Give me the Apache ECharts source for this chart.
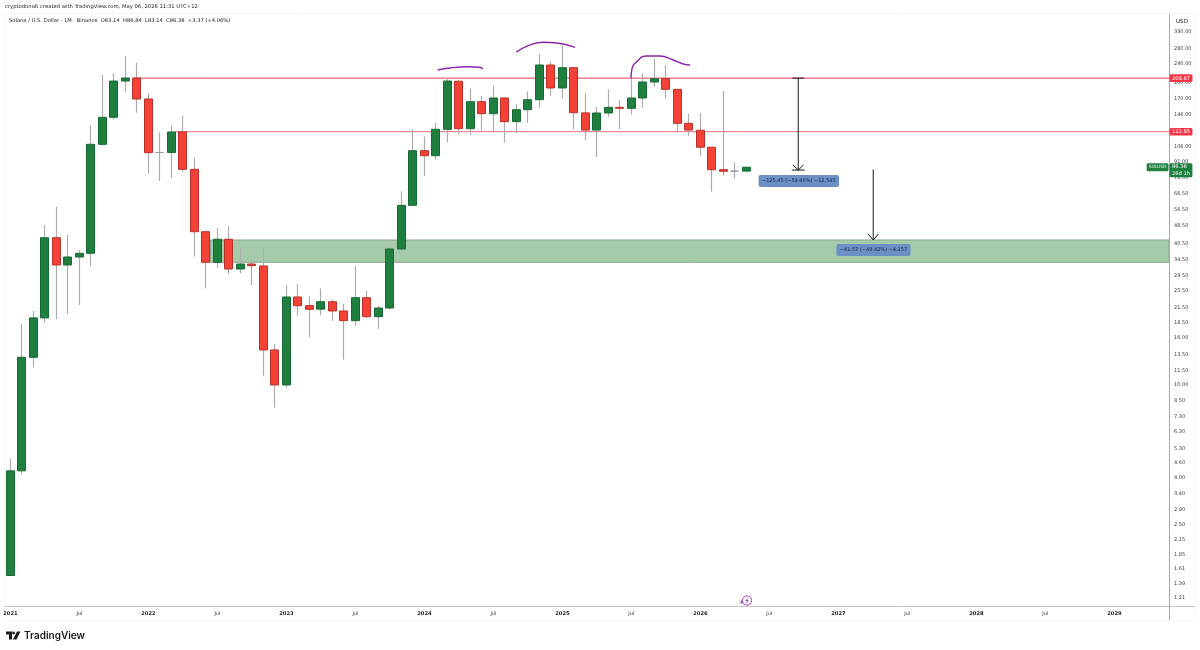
<!DOCTYPE html>
<html><head><meta charset="utf-8">
<style>html,body{margin:0;padding:0;background:#fff}#c{width:1200px;height:650px}</style>
<script src="https://cdn.jsdelivr.net/npm/echarts@6/dist/echarts.min.js"></script>
</head><body><div id="c"></div>
<script>
const opens=[1.51,4.26,13.13,19.4,42.95,32.78,35.48,36.8,108.4,141.7,203,209.2,169.9,100,100,122.5,84.6,45.6,33.67,42.3,31.5,33.1,32.46,14.12,9.98,23.87,21.9,21.15,22.78,20.78,18.88,23.7,19.64,21.4,38.4,59.2,101.8,96.85,125.8,202.5,126.6,165.4,146.9,171.6,135.7,152.8,168.7,237.9,189.5,231.7,148,124.9,147.9,156.4,154.9,171.6,201.1,208,187,133.5,124.6,105.3,84.3,83.14,83.14];
const closes=[4.26,13.13,19.4,42.95,32.78,35.48,36.8,108.4,141.7,203,209.2,169.9,99.8,100,122.5,84.6,45.6,33.67,42.3,31.5,33.1,32.56,14.12,9.98,23.87,21.9,21.13,22.78,20.78,18.88,23.7,19.64,21.4,38.4,59.2,101.8,96.85,125.8,203,126.6,165.4,146.9,171.6,135.7,152.8,168.7,237.9,189.5,231.7,148.3,124.9,147.9,156.4,154.9,171.6,201.1,207.7,187,133.5,124.9,105.3,84.3,83,83.14,86.38];
const lows=[1.5,4.12,11.9,18.5,19.15,20.23,22.05,32.46,106.9,138.9,182.1,148.3,81.3,75.4,77.9,82.4,35.6,26,31.9,30.07,30.2,26.8,10.94,7.97,9.72,19.84,16,19.9,18.82,12.82,17.96,19.4,17.39,21.13,37.8,58.9,79.2,93.4,110.6,119.3,119.3,122.9,122.1,110.2,121.3,133.9,155.4,175.5,169.9,125.8,112.8,95.6,142.1,126.2,145.4,155.9,191.9,170.4,122.1,117.4,96.85,67.8,79.4,77.4,83.14];
const highs=[4.81,18.27,20.78,48.7,58.4,44.25,38,131.3,216.1,219.2,260.1,243.4,179.8,122.1,130,144,95.3,45.8,47.3,48.1,38.8,34.7,38.8,14.94,26.9,27.16,23.95,26,23.24,22.27,32.36,25.41,21.77,38.6,68.05,126.2,117.4,134.3,209.8,204.5,188.9,175,194.6,172,161.2,183.3,264.6,245.9,288.1,232,179.8,156.9,187,168.2,208.6,217.6,253.3,237.2,187.5,146.9,147.9,105.5,183.9,90.7,86.84];
const priceTicks=[330,280,240,200,170,146,124,106,91,78,66.5,56.5,48.5,40.5,34.5,29.5,25.5,21.5,18.5,16,13.5,11.5,10,8.5,7.3,6.3,5.3,4.6,4,3.4,2.9,2.5,2.15,1.85,1.61,1.39,1.21];
const timeTicks=[0,6,12,18,24,30,36,42,48,54,60,66,72,78,84,90,96];
const timeLabels=['2021','Jul','2022','Jul','2023','Jul','2024','Jul','2025','Jul','2026','Jul','2027','Jul','2028','Jul','2029'];
const resistanceHigh=208.87, resistanceLow=122.85;
const resistanceHighLine=[[10.7,resistanceHigh],[100.75,resistanceHigh]];
const resistanceLowLine=[[14.3,resistanceLow],[100.75,resistanceLow]];
const zoneTop=42, zoneBottom=33.67, zoneStart=17.4;
const curve1=[[37.16,226.4],[38.23,231],[39.68,234],[40.83,232.6],[41.07,228.7]];
const curve2=[[43.99,269.9],[45.03,288.1],[46.34,298],[47.5,295.9],[49.1,283.6]];
const curve3=[[53.97,208.6],[54.03,226.4],[54.46,245.9],[55.33,260.1],[56.49,260.1],[57.64,250],[58.51,240.3],[59.1,237.9]];
const arrow1=[[68.51,208.87],[68.51,84]];
const arrow1TopCap=[[68,208.87],[69.02,208.87]];
const arrow1BottomCap=[[67.95,84],[69.07,84]];
const arrow1Head=[[68.05,88.4],[68.51,84],[68.97,88.4]];
const arrow2=[[75.03,84.5],[75.03,42]];
const arrow2Head=[[74.58,44.6],[75.03,42],[75.48,44.6]];
const measure1=[68.56,75.4,'−125.45 (−59.86%) −12,545'];
const measure2=[75.05,38.05,'−41.57 (−49.42%) −4,157'];
const lastPrice=86.38, countdown='26d 1h', symbolName='SOLUSD';
const xMin=-0.47, xMax=100.75, yMin=1.116, yMax=394.5;

const UP='#1f7f3f',UPB='#186a33',DN='#f44336',DNB='#b8302a',WICK='#adadad',FONT='"DejaVu Sans",sans-serif',AX='#3a3a3a';
const idx=opens.map((_,i)=>i);
const wickData=idx.map(i=>[i,opens[i],closes[i],lows[i],highs[i]]);
const bodyData=idx.map(i=>[i,opens[i],closes[i],Math.min(opens[i],closes[i]),Math.max(opens[i],closes[i])]);
const line=(data,color,width,smooth,z)=>({type:'line',data,showSymbol:false,symbol:'none',smooth:smooth||false,silent:true,z:z||6,clip:false,lineStyle:{color,width},itemStyle:{color}});
const tag=(x,y,text,pos,bg,fs,off,pad)=>({type:'scatter',symbolSize:1,silent:true,z:9,clip:false,itemStyle:{color:'rgba(0,0,0,0)',opacity:1},data:[[x,y]],
 label:{show:true,position:pos,distance:0,offset:off||[0,0],formatter:text,color:'#fff',fontFamily:FONT,fontSize:fs||5.2,lineHeight:6.4,backgroundColor:bg,borderRadius:1.5,padding:pad||[0.8,2.4,0.4,2.4]}});
const measure=m=>({type:'scatter',symbolSize:1,silent:true,z:9,itemStyle:{color:'rgba(0,0,0,0)',opacity:1},data:[[m[0],m[1]]],
 label:{show:true,position:'inside',formatter:m[2],color:'#14274e',fontFamily:FONT,fontSize:5,lineHeight:6,backgroundColor:'#6c8fc4',borderRadius:2,padding:[3,3.4]}});

const chart=echarts.init(document.getElementById('c'),null,{renderer:'canvas'});
chart.setOption({
 animation:false,backgroundColor:'#fff',
 grid:{left:5,right:31,top:14,bottom:44,containLabel:false},
 xAxis:{type:'value',min:xMin,max:xMax,splitLine:{show:false},axisLine:{show:false},axisTick:{show:false},
  axisLabel:{customValues:timeTicks,margin:5,fontFamily:FONT,fontSize:5,color:AX,hideOverlap:false,showMinLabel:true,
   formatter:v=>{const s=timeLabels[timeTicks.indexOf(Math.round(v))];return s==='Jul'?s:'{b|'+s+'}';},
   rich:{b:{fontWeight:'bold',fontSize:5.2,color:'#222',fontFamily:FONT}}}},
 yAxis:{type:'log',position:'right',min:yMin,max:yMax,splitLine:{show:false},axisLine:{show:false},axisTick:{show:false},
  axisLabel:{customValues:priceTicks,margin:5,fontFamily:FONT,fontSize:5,color:AX,formatter:v=>Number(v).toFixed(2)}},
 series:[
  {type:'line',data:[],z:1,silent:true,
   markArea:{silent:true,itemStyle:{color:'#a6cbaa',borderColor:'#8aa68e',borderWidth:1},data:[[{coord:[zoneStart,zoneTop]},{coord:[xMax,zoneBottom]}]]}},
  line(resistanceHighLine,'#dd3f55',1,false,2),
  line(resistanceLowLine,'#e56a78',1,false,2),
  {type:'candlestick',name:'wick',z:3,data:wickData,encode:{x:0,y:[1,2,3,4]},barWidth:1,silent:true,
   itemStyle:{color:WICK,color0:WICK,borderColor:WICK,borderColor0:WICK,borderColorDoji:WICK,borderWidth:1.2}},
  {type:'candlestick',name:'body',z:4,data:bodyData,encode:{x:0,y:[1,2,3,4]},barWidth:8.4,silent:true,
   itemStyle:{color:UP,color0:DN,borderColor:UPB,borderColor0:DNB,borderColorDoji:'#9a9a9a',borderWidth:1}},
  line(curve1,'#8e24aa',1.4,true),line(curve2,'#8e24aa',1.4,true),line(curve3,'#8e24aa',1.4,true),
  line(arrow1,'#1a1a1a',1),line(arrow1TopCap,'#1a1a1a',1),line(arrow1BottomCap,'#1a1a1a',1),line(arrow1Head,'#1a1a1a',1),
  line(arrow2,'#1a1a1a',1),line(arrow2Head,'#1a1a1a',1),
  measure(measure1),measure(measure2),
  tag(xMax,resistanceHigh,resistanceHigh.toFixed(2),'right','#f23645'),
  tag(xMax,resistanceLow,resistanceLow.toFixed(2),'right','#f23645'),
  tag(xMax,lastPrice,lastPrice.toFixed(2)+'\n'+countdown,'right','#1f7f3f',5.2,[0,3]),
  tag(xMax,lastPrice,symbolName,'left','#1f7f3f',4.4,[0,0],[1,2,0.6,2])
 ],
 graphic:[
  {type:'rect',shape:{x:4.5,y:13.5,width:1191,height:607},style:{fill:'none',stroke:'#f4f4f4',lineWidth:1},silent:true,z:0},
  {type:'line',shape:{x1:4.5,y1:606.5,x2:1195,y2:606.5},style:{stroke:'#c4c4c4',lineWidth:1},silent:true,z:8},
  {type:'line',shape:{x1:1169.5,y1:14,x2:1169.5,y2:620},style:{stroke:'#a8a8a8',lineWidth:1},silent:true,z:8},
  {type:'text',x:5,y:7,silent:true,style:{text:'cryptodonalt created with TradingView.com, May 06, 2026 11:31 UTC+12',font:'5.25px '+FONT,fill:'#222',textVerticalAlign:'middle'}},
  {type:'text',x:9,y:21,silent:true,style:{text:'Solana / U.S. Dollar · 1M · Binance  O83.14  H86.84  L83.14  C86.38  +3.37 (+4.06%)',font:'5.2px '+FONT,fill:'#222',textVerticalAlign:'middle'}},
  {type:'text',x:1176,y:21.5,silent:true,style:{text:'USD',font:'5.6px '+FONT,fill:'#222',textVerticalAlign:'middle'}},
  {type:'text',x:24,y:635.5,silent:true,style:{text:'TradingView',font:'600 10px Inter,sans-serif',fill:'#1a1a1a',textVerticalAlign:'middle'}},
  {type:'polygon',silent:true,shape:{points:[[6,631.5],[12,631.5],[12,639.5],[9,639.5],[9,634.5],[6,634.5]]},style:{fill:'#1a1a1a'}},
  {type:'circle',silent:true,shape:{cx:13.6,cy:633,r:1.4},style:{fill:'#1a1a1a'}},
  {type:'polygon',silent:true,shape:{points:[[17,631.5],[20.5,631.5],[16.5,639.5],[13,639.5]]},style:{fill:'#1a1a1a'}},
  {type:'circle',silent:true,shape:{cx:747,cy:600.5,r:4.6},style:{fill:'#fff',stroke:'#9c27b0',lineWidth:0.9}},
  {type:'polygon',silent:true,shape:{points:[[747.8,597.2],[745.6,600.9],[747,600.9],[746.3,603.8],[748.6,599.9],[747.2,599.9]]},style:{fill:'#9c27b0'}},
  {type:'text',x:741.5,y:602,silent:true,style:{text:'+',font:'bold 6px '+FONT,fill:'#7b3fd0',textAlign:'center',textVerticalAlign:'middle'}}
 ]
});
</script></body></html>
